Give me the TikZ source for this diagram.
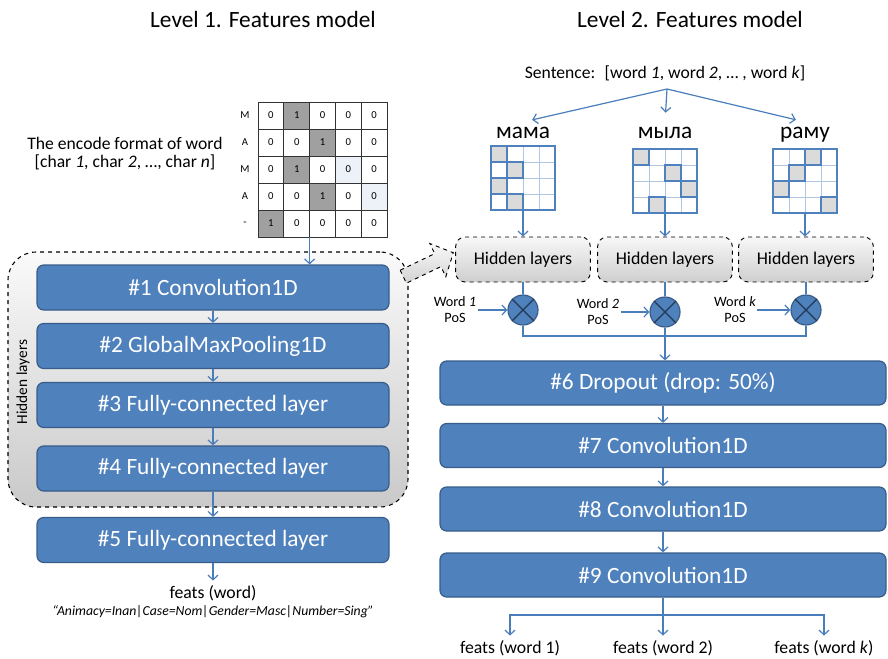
\documentclass[tikz,border=0pt]{standalone}
\usepackage{fontspec}
\setmainfont{Carlito}
\usetikzlibrary{arrows.meta}

\definecolor{boxblue}{HTML}{4F81BD}
\definecolor{boxedge}{HTML}{385D8A}
\definecolor{lineblue}{HTML}{4A7EBB}
\definecolor{onegray}{HTML}{A0A0A0}
\definecolor{palecell}{HTML}{EDF2F9}

\begin{document}
\begin{tikzpicture}[x=0.75pt,y=-0.75pt,
    layer/.style={rectangle,rounded corners=5pt,draw=boxedge,line width=0.9pt,fill=boxblue,text=white,inner sep=0pt,font=\fontsize{17.5}{20}\selectfont},
    leftlayer/.style={layer,minimum width=264pt,minimum height=33.75pt},
    rightlayer/.style={layer,minimum width=334.5pt,minimum height=33pt},
    hidbox/.style={rectangle,rounded corners=7pt,draw=black,dashed,line width=0.7pt,top color=gray!6,bottom color=gray!38,minimum width=101pt,minimum height=33.75pt,font=\fontsize{13.4}{16}\selectfont},
    mult/.style={circle,draw=boxedge,line width=0.9pt,fill=boxblue,minimum size=22.5pt,inner sep=0pt},
    flow/.style={draw=lineblue,line width=0.9pt,-{Straight Barb[length=3.5pt,width=7.5pt]}},
    link/.style={draw=lineblue,line width=0.9pt},
    enccell/.style={rectangle,draw=black!80,line width=0.6pt,minimum width=19.35pt,minimum height=20.25pt,inner sep=0pt,font=\fontsize{8}{9}\selectfont},
    wcell/.style={rectangle,draw=boxblue!45,line width=0.5pt,minimum size=12pt,inner sep=0pt},
    title/.style={font=\fontsize{17.5}{20}\selectfont},
    wordlab/.style={font=\fontsize{17.5}{20}\selectfont,anchor=base},
    midtext/.style={font=\fontsize{13.2}{13.5}\selectfont,align=center},
    poslab/.style={font=\fontsize{10.7}{12}\selectfont,align=center,inner sep=1pt}]
    \useasboundingbox (0,0) rectangle (888,658);

    % level 1
    \node[title] (t1) at (263,19) {Level 1. Features model};
    \node[midtext] (enc) at (125,154) {The encode format of word\\{}[char \textit{1}, char \textit{2}, …, char \textit{n}]};
    \fill[palecell] (335.4,156) rectangle +(25.8,27);
    \fill[palecell] (361.2,183) rectangle +(25.8,27);
    \foreach \r/\c in {0/1,1/2,2/1,3/2,4/0}
        \fill[onegray] ({258+25.8*\c},{102+27*\r}) rectangle +(25.8,27);
    \foreach \r/\lab/\g in {0/М/1,1/А/2,2/М/1,3/А/2,4/-/0} {
        \node[font=\fontsize{8}{9}\selectfont] (row\r) at (245,{115.5+27*\r}) {\lab};
        \foreach \c in {0,...,4}
            \node[enccell] (e\r\c) at ({270.9+25.8*\c},{115.5+27*\r}) {\ifnum\c=\g\relax 1\else 0\fi};
    }
    \coordinate (encbot) at (309.6,237);

    \node[rectangle,rounded corners=21pt,draw=black,dashed,line width=0.8pt,top color=gray!4,bottom color=gray!42,minimum width=300pt,minimum height=191.25pt] (hid) at (208,379.5) {};
    \node[rotate=90,font=\fontsize{11.5}{13}\selectfont] (hidlab) at (23,382) {Hidden layers};
    % block arrow towards level 2
    \path[draw=black,dashed,line width=0.7pt,top color=gray!5,bottom color=gray!35]
        (400.2,270.2) -- (434.7,253.6) -- (429.8,243.5) -- (453.3,252.7)
        -- (445.8,276.7) -- (440.9,266.6) -- (406.4,283.2) -- cycle;

    \node[leftlayer] (l1) at (213,287.5) {\#1 Convolution1D};
    \node[leftlayer] (l2) at (213,346) {\#2 GlobalMaxPooling1D};
    \node[leftlayer] (l3) at (213,405) {\#3 Fully-connected layer};
    \node[leftlayer] (l4) at (213,468.5) {\#4 Fully-connected layer};
    \node[leftlayer] (l5) at (213,540) {\#5 Fully-connected layer};
    \node[font=\fontsize{13.3}{15}\selectfont] (fw) at (213,593) {feats (word)};
    \node[font=\fontsize{10.3}{12}\selectfont\itshape] (fwex) at (213,612) {“Animacy=Inan|Case=Nom|Gender=Masc|Number=Sing”};

    \draw[flow] (encbot) -- (encbot |- l1.north);
    \draw[flow] (l1) -- (l2);
    \draw[flow] (l2) -- (l3);
    \draw[flow] (l3) -- (l4);
    \draw[flow] (l4) -- (l5);
    \draw[flow] (l5) -- (fw);

    % level 2
    \node[title] (t2) at (690,19) {Level 2. Features model};
    \node[font=\fontsize{13.2}{15}\selectfont] (sent) at (665,73) {Sentence:~ [word \textit{1}, word \textit{2}, … , word \textit{k}]};
    \coordinate (split) at (667,89);
    \node[wordlab] (w1) at (523,138) {мама};
    \node[wordlab] (w2) at (665,138) {мыла};
    \node[wordlab] (w3) at (805,138) {раму};
    \draw[flow,shorten >=7pt] (split) -- (w1.north);
    \draw[flow,shorten >=7pt] (split) -- (w2.north);
    \draw[flow,shorten >=7pt] (split) -- (w3.north);

    \foreach \wx/\wy/\cells in {491/146/{0/0,1/1,2/0,3/1},633/149/{0/0,1/2,2/3,3/1},773/149/{0/2,1/1,2/0,3/3}} {
        \foreach \r in {0,...,3}
            \foreach \c in {0,...,3}
                \node[wcell] at ({\wx+8+16*\c},{\wy+8+16*\r}) {};
        \foreach \r/\c in \cells
            \node[wcell,fill=gray!28,draw=boxblue,line width=0.8pt] at ({\wx+8+16*\c},{\wy+8+16*\r}) {};
        \draw[boxblue,line width=1pt] (\wx,\wy) rectangle +(64,64);
    }
    \coordinate (g1) at (523,210);
    \coordinate (g2) at (665,213);
    \coordinate (g3) at (805,213);

    \node[hidbox] (h1) at (523,259.5) {Hidden layers};
    \node[hidbox] (h2) at (665,259.5) {Hidden layers};
    \node[hidbox] (h3) at (806,259.5) {Hidden layers};
    \draw[flow] (g1) -- (g1 |- h1.north);
    \draw[flow] (g2) -- (g2 |- h2.north);
    \draw[flow] (g3) -- (g3 |- h3.north);

    \node[mult] (c1) at (523,310) {};
    \node[mult] (c2) at (665,312) {};
    \node[mult] (c3) at (806,310) {};
    \foreach \m in {c1,c2,c3}
        \draw[boxedge!60!black,line width=0.9pt] (\m.north west) -- (\m.south east) (\m.north east) -- (\m.south west);
    \draw[link] (h1) -- (c1);
    \draw[link] (h2) -- (c2);
    \draw[link] (h3) -- (c3);

    \node[poslab] (p1) at (455,310) {Word \textit{1}\\PoS};
    \node[poslab] (p2) at (598,312) {Word \textit{2}\\PoS};
    \node[poslab] (p3) at (735,310) {Word \textit{k}\\PoS};
    \draw[flow] (p1.east) -- (c1.west);
    \draw[flow] (p2.east) -- (c2.west);
    \draw[flow] (p3.east) -- (c3.west);

    \coordinate (join) at (665,336);
    \draw[link] (c1) |- (join) -| (c3);
    \draw[link] (c2) -- (join);

    \node[rightlayer] (r6) at (663,383) {\#6 Dropout (drop: 50\%)};
    \node[rightlayer] (r7) at (663,445.5) {\#7 Convolution1D};
    \node[rightlayer] (r8) at (663,509) {\#8 Convolution1D};
    \node[rightlayer] (r9) at (663,575) {\#9 Convolution1D};
    \draw[flow] (join) -- (join |- r6.north);
    \draw[flow] (r6) -- (r7);
    \draw[flow] (r7) -- (r8);
    \draw[flow] (r8) -- (r9);

    \node[font=\fontsize{13.3}{15}\selectfont] (f1) at (510,648) {feats (word 1)};
    \node[font=\fontsize{13.3}{15}\selectfont] (f2) at (663,648) {feats (word 2)};
    \node[font=\fontsize{13.3}{15}\selectfont] (f3) at (824,648) {feats (word \textit{k})};
    \coordinate (fork) at (663,615);
    \draw[link] (r9) -- (fork);
    \draw[flow] (fork) -| (f1);
    \draw[flow] (fork) -| (f3);
    \draw[flow] (fork) -- (f2);
\end{tikzpicture}
\end{document}
